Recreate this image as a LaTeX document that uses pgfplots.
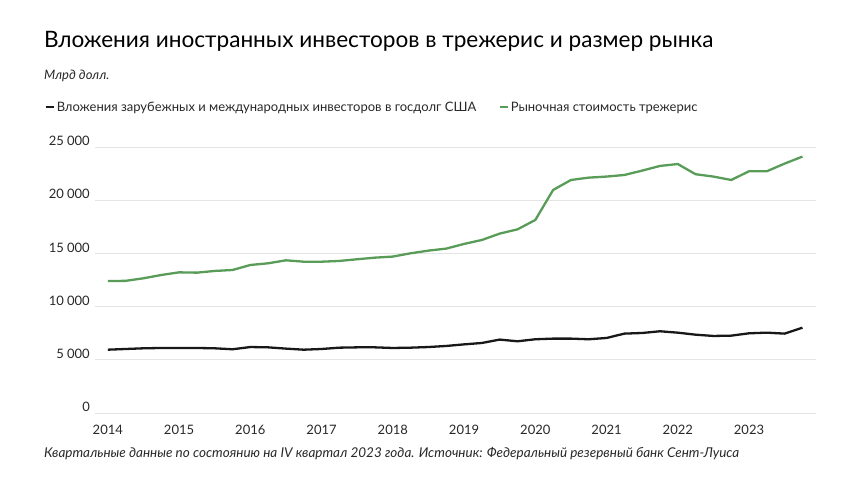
\documentclass[border=0pt]{standalone}
\usepackage{fontspec}
\setmainfont{Lato}
\usepackage{pgfplots}
\pgfplotsset{compat=1.18}
\definecolor{tgreen}{RGB}{88,156,88}
\definecolor{tblack}{RGB}{24,24,24}
\definecolor{gridc}{RGB}{228,228,228}
\definecolor{ticktext}{RGB}{40,40,40}
\pgfplotstableread{
x y
2014.00 12400
2014.25 12420
2014.50 12660
2014.75 12970
2015.00 13220
2015.25 13190
2015.50 13350
2015.75 13440
2016.00 13910
2016.25 14070
2016.50 14350
2016.75 14220
2017.00 14220
2017.25 14290
2017.50 14450
2017.75 14600
2018.00 14700
2018.25 15010
2018.50 15260
2018.75 15450
2019.00 15890
2019.25 16260
2019.50 16860
2019.75 17260
2020.00 18140
2020.25 20960
2020.50 21900
2020.75 22120
2021.00 22220
2021.25 22370
2021.50 22780
2021.75 23220
2022.00 23400
2022.25 22440
2022.50 22220
2022.75 21900
2023.00 22720
2023.25 22720
2023.50 23440
2023.75 24100
}\marketdata
\pgfplotstableread{
x y
2014.00 5950
2014.25 6015
2014.50 6080
2014.75 6110
2015.00 6110
2015.25 6110
2015.50 6080
2015.75 5990
2016.00 6200
2016.25 6170
2016.50 6050
2016.75 5950
2017.00 6015
2017.25 6140
2017.50 6170
2017.75 6170
2018.00 6110
2018.25 6140
2018.50 6200
2018.75 6300
2019.00 6450
2019.25 6580
2019.50 6900
2019.75 6740
2020.00 6930
2020.25 6990
2020.50 6990
2020.75 6930
2021.00 7050
2021.25 7460
2021.50 7520
2021.75 7680
2022.00 7550
2022.25 7360
2022.50 7240
2022.75 7270
2023.00 7490
2023.25 7550
2023.50 7460
2023.75 8020
}\foreigndata
\begin{document}
\begin{tikzpicture}
\useasboundingbox (0pt,0pt) rectangle (860pt,484pt);
\node[anchor=base west, inner sep=0, font=\fontsize{22.6}{26}\selectfont, text=black] at (44pt,436pt) {Вложения иностранных инвесторов в трежерис и размер рынка};
\node[anchor=base west, inner sep=0, font=\fontsize{13}{15}\selectfont\itshape, text=ticktext] at (44pt,404pt) {Млрд долл.};
\node[anchor=base west, inner sep=0, font=\fontsize{13.5}{15}\selectfont\itshape, text=ticktext] at (44pt,26pt) {Квартальные данные по состоянию на IV квартал 2023 года. Источник: Федеральный резервный банк Сент-Луиса};
\begin{axis}[
  at={(95pt,71pt)}, anchor=south west,
  scale only axis, width=721pt, height=266pt,
  xmin=2013.82, xmax=2023.94, ymin=0, ymax=25000,
  scaled y ticks=false, scaled x ticks=false,
  axis line style={draw=none},
  major tick length=0pt,
  ymajorgrids, grid style={gridc, line width=0.8pt},
  xtick={2014,2015,2016,2017,2018,2019,2020,2021,2022,2023},
  xticklabels={2014,2015,2016,2017,2018,2019,2020,2021,2022,2023},
  ytick={0,5000,10000,15000,20000,25000},
  yticklabels={0,5 000,10 000,15 000,20 000,25 000},
  xticklabel style={anchor=center, inner sep=0pt, yshift=-17pt, font=\fontsize{13}{15}\selectfont, text=ticktext},
  yticklabel style={anchor=east, inner sep=0pt, xshift=-5pt, yshift=6pt, font=\fontsize{13}{15}\selectfont, text=ticktext},
  legend columns=2,
  legend style={at={(axis description cs:-0.0707,1.15)}, anchor=west, draw=none, fill=none, inner sep=0pt,
    font=\fontsize{13}{15}\selectfont, text=ticktext,
    /tikz/every even column/.append style={column sep=20pt}},
  legend image code/.code={\draw[#1, line width=2.6pt] (0pt,0pt) -- (8pt,0pt);},
  clip=false,
]
\addplot[tblack, line width=2.3pt, line join=round] table[x=x,y=y] {\foreigndata};
\addlegendentry{Вложения зарубежных и международных инвесторов в госдолг США}
\addplot[tgreen, line width=2.3pt, line join=round] table[x=x,y=y] {\marketdata};
\addlegendentry{Рыночная стоимость трежерис}
\end{axis}
\end{tikzpicture}
\end{document}
